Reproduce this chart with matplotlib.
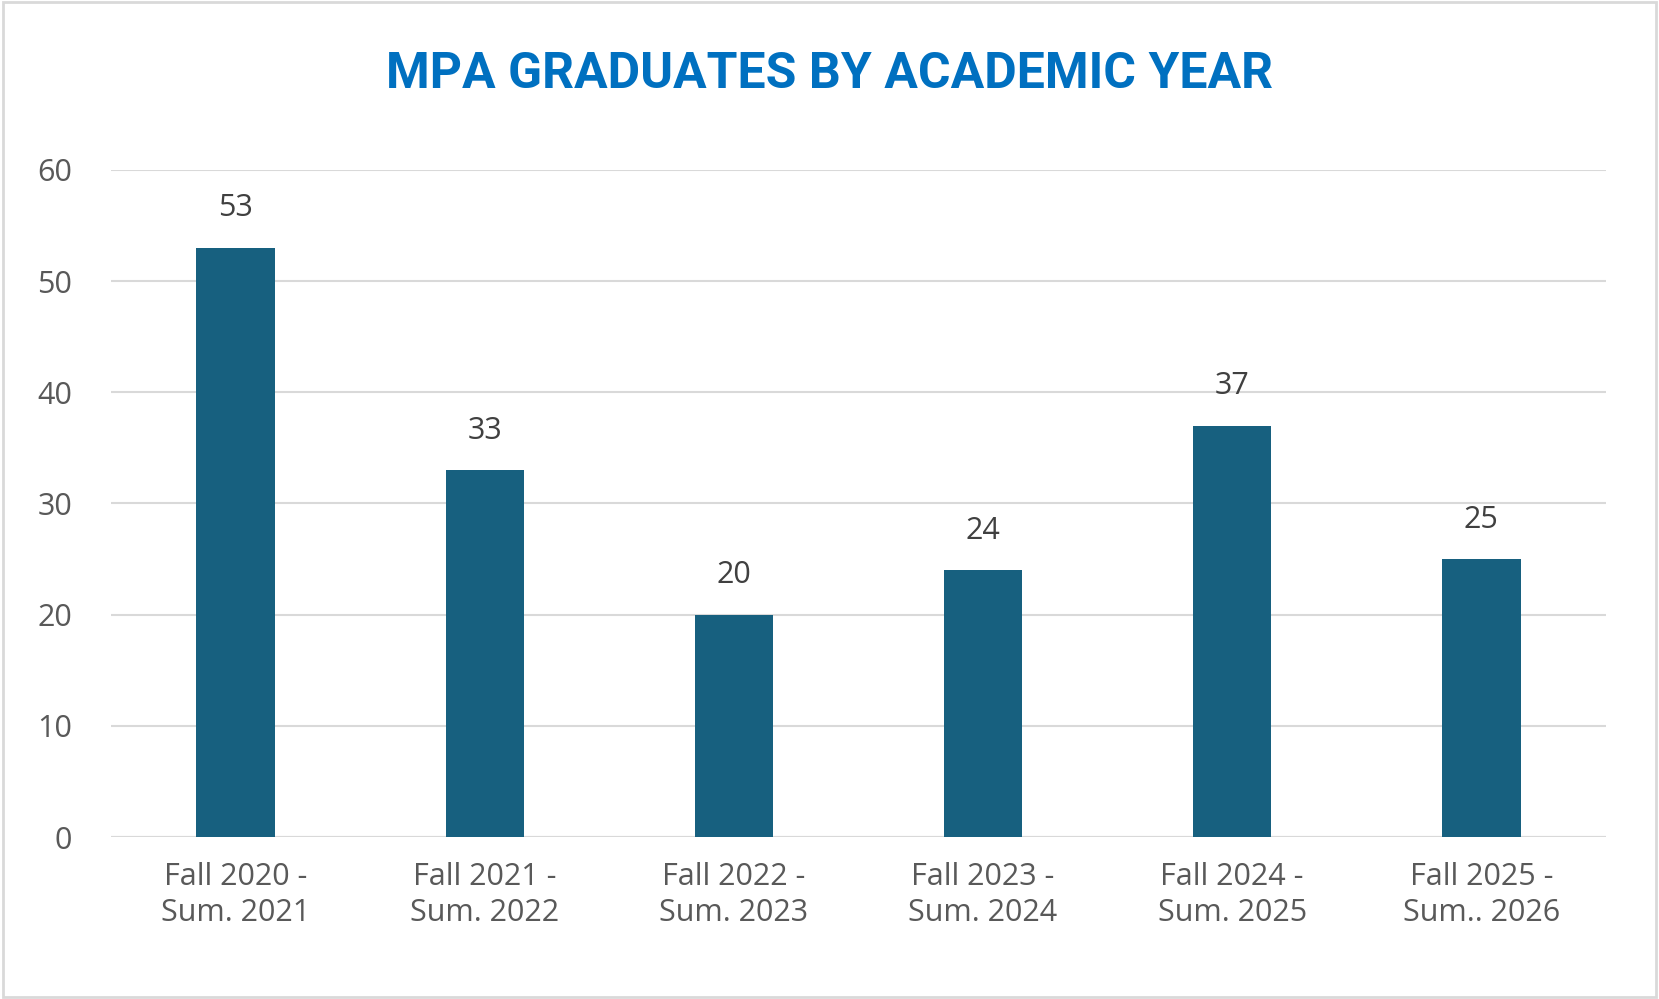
import matplotlib.pyplot as plt
from matplotlib.patches import Rectangle

categories = ["Fall 2020 -\nSum. 2021", "Fall 2021 -\nSum. 2022", "Fall 2022 -\nSum. 2023",
              "Fall 2023 -\nSum. 2024", "Fall 2024 -\nSum. 2025", "Fall 2025 -\nSum.. 2026"]
graduates = [53, 33, 20, 24, 37, 25]
yticks = [0, 10, 20, 30, 40, 50, 60]

plt.rcParams['font.family'] = ['Open Sans', 'DejaVu Sans']

fig = plt.figure(figsize=(16.59, 9.99), dpi=100)
fig.patches.append(Rectangle((0.002, 0.002), 0.996, 0.996, transform=fig.transFigure,
                             fill=False, edgecolor='#d9d9d9', linewidth=2))
ax = fig.add_axes([0.067, 0.162, 0.901, 0.668])

x = range(len(categories))
bars = ax.bar(x, graduates, width=0.315, color='#17607f', zorder=3)
for b, v in zip(bars, graduates):
    ax.text(b.get_x() + b.get_width() / 2, v + 2.2, str(v), ha='center', va='bottom',
            fontsize=22, color='#404040')

ax.set_ylim(0, 60)
ax.set_xlim(-0.5, len(categories) - 0.5)
ax.set_yticks(yticks)
ax.set_xticks(list(x))
ax.set_xticklabels(categories, fontsize=22, color='#595959', linespacing=1.25)
ax.tick_params(axis='y', labelsize=22, labelcolor='#595959', length=0, pad=28)
ax.tick_params(axis='x', length=0, pad=18)
ax.grid(axis='y', color='#d9d9d9', linewidth=1.5, zorder=0)
for s in ax.spines.values():
    s.set_visible(False)
ax.axhline(0, color='#d9d9d9', linewidth=1.5, zorder=2)

fig.text(0.5, 0.925, "MPA GRADUATES BY ACADEMIC YEAR", ha='center', va='center',
         fontsize=36, fontweight='bold', color='#0070c0',
         family=['Liberation Sans Narrow', 'Roboto', 'DejaVu Sans'])

fig.savefig('out.png', dpi=100)
